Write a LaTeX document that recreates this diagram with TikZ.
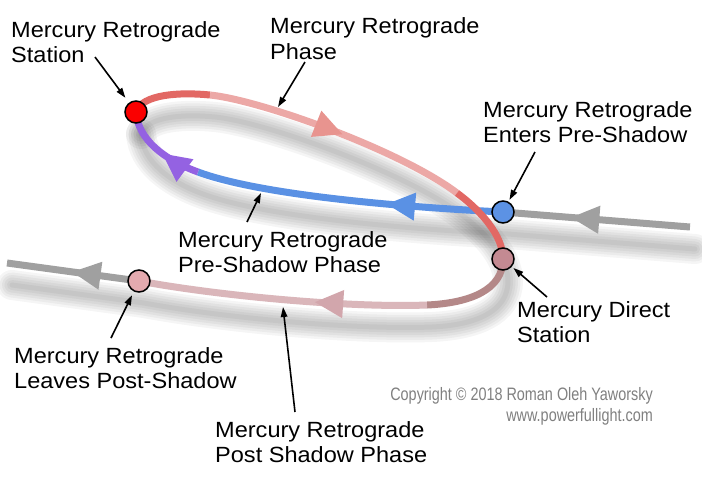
\documentclass[tikz,border=0pt]{standalone}
\usepackage{fontspec}
\setmainfont{Liberation Sans}
\newfontfamily\labelfont[FakeStretch=1.07]{Liberation Sans}
\newfontfamily\copyfont[FakeStretch=0.8]{Liberation Sans}
\usetikzlibrary{arrows.meta,decorations.markings}
\pgfdeclarelayer{bgzero}
\pgfdeclarelayer{bgone}
\pgfsetlayers{bgzero,bgone,main}
\definecolor{cdarkred}{RGB}{226,104,100}
\definecolor{cpink}{RGB}{236,168,166}
\definecolor{cpinkarrow}{RGB}{232,148,143}
\definecolor{cblue}{RGB}{90,145,228}
\definecolor{cpurple}{RGB}{148,98,226}
\definecolor{cbrown}{RGB}{180,136,136}
\definecolor{clightbrown}{RGB}{218,182,186}
\definecolor{clbarrow}{RGB}{210,166,172}
\definecolor{cgrey}{RGB}{160,160,160}
\definecolor{credn}{RGB}{250,0,0}
\definecolor{cbluen}{RGB}{92,146,228}
\definecolor{cdsn}{RGB}{196,138,146}
\definecolor{clvn}{RGB}{228,170,175}
\definecolor{ccopy}{RGB}{128,128,128}
\tikzset{
  station/.style={circle, draw=black, line width=1.5pt, minimum size=22pt, inner sep=0pt},
  track/.style={line width=7pt, line cap=butt},
  midarrow/.style n args={2}{postaction={decorate}, decoration={markings,
     mark=at position #1 with {\arrow{Triangle[length=29pt,width=26pt,color=#2]}}}},
  pointer/.style={-{Triangle[length=10pt,width=6.5pt]}, line width=1.6pt, black},
  lbl/.style={anchor=north west, inner sep=0pt, align=left, font=\labelfont\fontsize{22}{25.5}\selectfont},
  shadowline/.style={line width=#1, line cap=round, black, opacity=0.038},
}
\newcommand\shadowpaths[1]{%
  \draw[shadowline=#1] (st.center) .. controls (142,94) and (180,92) .. (j1)
     .. controls (260,100) and (400,150) .. (j2)
     .. controls (480,210) and (503,235) .. (ds.center)
     .. controls (503,290) and (470,303) .. (j4)
     .. controls (350,308) and (220,296) .. (lv.center) -- (gout);
  \draw[shadowline=#1] (gin) -- (en.center) .. controls (400,207) and (260,195) .. (j3)
     .. controls (165,160) and (138,140) .. (st.center);
}
\begin{document}
\begin{tikzpicture}[x=1pt,y=-1pt]
\useasboundingbox (0,0) rectangle (702,488);
\begin{pgfonlayer}{bgzero}
\fill[white] (0,0) rectangle (702,488);
\end{pgfonlayer}

% stations
\node[station, fill=credn] (st) at (136,112) {};
\node[station, fill=cbluen] (en) at (503,212) {};
\node[station, fill=cdsn] (ds) at (503,259) {};
\node[station, fill=clvn] (lv) at (139,281) {};

% junctions
\coordinate (j1) at (210,95);
\coordinate (j2) at (457,193);
\coordinate (j3) at (198,172);
\coordinate (j4) at (427,305);
\coordinate (gin) at (690,227);
\coordinate (gout) at (7,263);
\coordinate (tpA) at (278,107);
\coordinate (tpB) at (261,193);
\coordinate (tpC) at (283,307);

% shadows
\begin{pgfonlayer}{bgzero}
\begin{scope}[transform canvas={shift={(5pt,-22pt)}}]
\shadowpaths{30pt}
\shadowpaths{25pt}
\shadowpaths{20pt}
\shadowpaths{15pt}
\shadowpaths{10pt}
\shadowpaths{5pt}
\end{scope}
\end{pgfonlayer}

% tracks
\begin{pgfonlayer}{bgone}
\draw[track, cgrey, midarrow={0.64}{cgrey}] (gin) -- (en.center);
\draw[track, cblue, midarrow={0.38}{cblue}] (en.center) .. controls (400,207) and (260,195) .. (j3);
\draw[track, cpurple, midarrow={0.45}{cpurple}] (j3) .. controls (165,160) and (138,140) .. (st.center);
\draw[track, cdarkred] (st.center) .. controls (142,94) and (180,92) .. (j1);
\draw[track, cpink, midarrow={0.52}{cpinkarrow}] (j1) .. controls (260,100) and (400,150) .. (j2);
\draw[track, cdarkred] (j2) .. controls (480,210) and (503,235) .. (ds.center);
\draw[track, cbrown] (ds.center) .. controls (503,290) and (470,303) .. (j4);
\draw[track, clightbrown, midarrow={0.39}{clbarrow}] (j4) .. controls (350,308) and (220,296) .. (lv.center);
\draw[track, cgrey, midarrow={0.51}{cgrey}] (lv.center) -- (gout);
\end{pgfonlayer}

% labels
\node[lbl] (l1) at (11,21) {Mercury Retrograde\\Station};
\node[lbl] (l2) at (270,17.5) {Mercury Retrograde\\Phase};
\node[lbl] (l3) at (483,101) {Mercury Retrograde\\Enters Pre-Shadow};
\node[lbl] (l4) at (178,231) {Mercury Retrograde\\Pre-Shadow Phase};
\node[lbl] (l5) at (517,301) {Mercury Direct\\Station};
\node[lbl] (l6) at (14,347) {Mercury Retrograde\\Leaves Post-Shadow};
\node[lbl] (l7) at (215,421) {Mercury Retrograde\\Post Shadow Phase};
\node[anchor=north east, inner sep=0pt, align=right, text=ccopy,
      font=\copyfont\fontsize{18}{21.7}\selectfont] (cp) at (653,387)
      {Copyright \textcopyright{} 2018 Roman Oleh Yaworsky\\www.powerfullight.com};

% pointers
\coordinate (s1) at (95,57);
\coordinate (s2) at (305,62);
\coordinate (s3) at (535,152);
\coordinate (s4) at (247,222);
\coordinate (s5) at (547,297);
\coordinate (s6) at (111,338);
\coordinate (s7) at (295,412);
\draw[pointer, shorten >=6pt] (s1) -- (st);
\draw[pointer] (s2) -- (tpA);
\draw[pointer, shorten >=2pt] (s3) -- (en);
\draw[pointer] (s4) -- (tpB);
\draw[pointer, shorten >=2pt] (s5) -- (ds);
\draw[pointer, shorten >=4pt] (s6) -- (lv);
\draw[pointer] (s7) -- (tpC);
\end{tikzpicture}
\end{document}
